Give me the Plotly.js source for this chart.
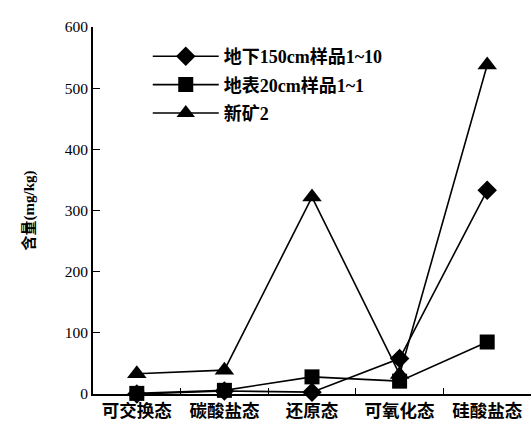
<!DOCTYPE html>
<html>
<head>
<meta charset="utf-8">
<script src="https://cdn.plot.ly/plotly-3.0.1.min.js"></script>
<style>html,body{margin:0;padding:0;background:#fff;}#chart{width:531px;height:423px;}</style>
</head>
<body>
<div id="chart"></div>
<script>
const categories = ['可交换态', '碳酸盐态', '还原态', '可氧化态', '硅酸盐态'];
const seriesNames = ['地下150cm样品1~10', '地表20cm样品1~1', '新矿2'];
const deep150 = [0, 5, 3, 58, 333];
const surface20 = [1, 6, 28, 21, 85];
const newMine2 = [33, 39, 322, 32, 538];
const yTicks = [0, 100, 200, 300, 400, 500, 600];

const FONT = '"Liberation Serif", "Times New Roman", "Noto Sans CJK SC", serif';
const lineStyle = {color: '#000', width: 1.6};

function trace(name, y, symbol, size, group) {
  return {
    type: 'scatter', mode: 'lines+markers', name: name, x: categories, y: y,
    line: lineStyle, legendgroup: group,
    marker: {symbol: symbol, size: size, color: '#000', line: {width: 0}},
    cliponaxis: false
  };
}

const data = [
  trace(seriesNames[0], deep150, 'diamond', 15, 'a'),
  trace(seriesNames[1], surface20, 'square', 15, 'b'),
  trace(seriesNames[2], newMine2, 'triangle-up', 17, 'c')
];

const layout = {
  width: 531, height: 423,
  margin: {l: 93, r: 0, t: 27, b: 29},
  paper_bgcolor: '#fff', plot_bgcolor: '#fff',
  font: {family: FONT, color: '#000', size: 15},
  showlegend: true,
  legend: {
    x: 0.125, y: 0.97, xanchor: 'left', yanchor: 'top',
    bgcolor: 'rgba(0,0,0,0)', borderwidth: 0,
    font: {family: FONT, size: 18, color: '#000', weight: 'bold'},
    itemwidth: 66, traceorder: 'grouped', tracegroupgap: 2
  },
  xaxis: {
    type: 'category', range: [-0.5, 4.5],
    showline: true, linecolor: '#000', linewidth: 2,
    ticks: 'inside', tickson: 'boundaries', ticklen: 6, tickcolor: '#000', tickwidth: 1,
    showgrid: false, zeroline: false,
    tickfont: {family: FONT, size: 17.5, weight: 'bold'}
  },
  yaxis: {
    range: [0, 600], tickvals: yTicks,
    showline: true, linecolor: '#000', linewidth: 2,
    ticks: 'inside', ticklen: 7, tickcolor: '#000', tickwidth: 1,
    showgrid: false, zeroline: false,
    tickfont: {family: FONT, size: 15.5},
    title: {text: '含量(mg/kg)', font: {family: FONT, size: 15, weight: 'bold'}, standoff: 26}
  }
};

Plotly.newPlot('chart', data, layout, {displayModeBar: false, staticPlot: true});
</script>
</body>
</html>
